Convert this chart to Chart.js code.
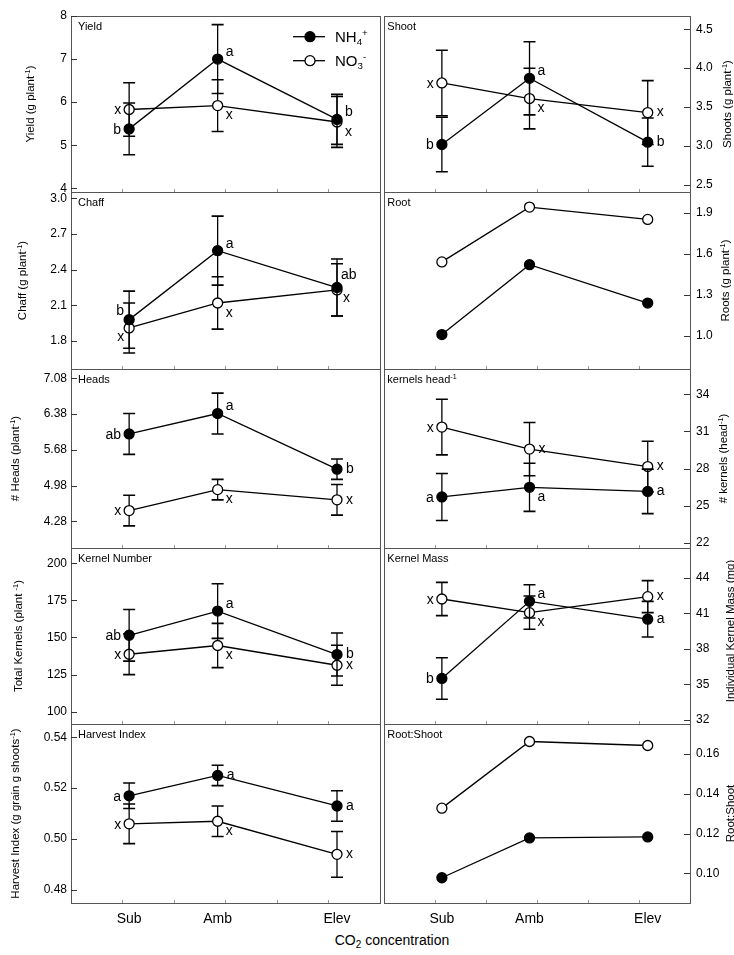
<!DOCTYPE html>
<html>
<head>
<meta charset="utf-8">
<script src="https://cdn.jsdelivr.net/npm/chart.js@4.4.1/dist/chart.umd.min.js"></script>
<style>
 html,body{margin:0;padding:0;background:#fff}
 body{position:relative;width:734px;height:955px;overflow:hidden;font-family:"Liberation Sans",Arial,sans-serif}
 canvas{position:absolute}
 #xtitle{position:absolute;left:392px;top:932px;transform:translateX(-50%);font-size:14px;line-height:16px;color:#000;white-space:nowrap}
 #xtitle sub{font-size:10px;vertical-align:-3px;line-height:0}
</style>
</head>
<body>
<div id="xtitle">CO<sub>2</sub> concentration</div>
<script>
// ---------------- DATA ----------------
const categories = ['Sub', 'Amb', 'Elev'];
const categoryX = [1.13, 2.85, 5.17];
const xTickValues = [1, 2, 3, 4, 5];
const seriesLabels = ['NH_{4}^{+}', 'NO_{3}^{-}'];

// Yield (g plant-1)
const yieldTickLabels = ['4', '5', '6', '7', '8'];
const yieldNH4 = [5.38, 7.00, 5.60];
const yieldNH4Err = [0.60, 0.80, 0.58];
const yieldNO3 = [5.83, 5.92, 5.54];
const yieldNO3Err = [0.62, 0.60, 0.59];
const yieldNH4Sig = ['b', 'a', 'b'];
const yieldNO3Sig = ['x', 'x', 'x'];

// Shoots (g plant-1)
const shootTickLabels = ['2.5', '3.0', '3.5', '4.0', '4.5'];
const shootNH4 = [3.02, 3.87, 3.05];
const shootNH4Err = [0.35, 0.47, 0.31];
const shootNO3 = [3.81, 3.61, 3.43];
const shootNO3Err = [0.42, 0.39, 0.41];
const shootNH4Sig = ['b', 'a', 'b'];
const shootNO3Sig = ['x', 'x', 'x'];

// Chaff (g plant-1)
const chaffTickLabels = ['1.8', '2.1', '2.4', '2.7', '3.0'];
const chaffNH4 = [1.98, 2.56, 2.25];
const chaffNH4Err = [0.24, 0.29, 0.24];
const chaffNO3 = [1.91, 2.12, 2.23];
const chaffNO3Err = [0.21, 0.22, 0.22];
const chaffNH4Sig = ['b', 'a', 'ab'];
const chaffNO3Sig = ['x', 'x', 'x'];

// Roots (g plant-1)
const rootTickLabels = ['1.0', '1.3', '1.6', '1.9'];
const rootNH4 = [1.01, 1.52, 1.24];
const rootNO3 = [1.54, 1.94, 1.85];

// # Heads (plant-1)
const headsTickLabels = ['4.28', '4.98', '5.68', '6.38', '7.08'];
const headsNH4 = [5.99, 6.39, 5.30];
const headsNH4Err = [0.40, 0.40, 0.20];
const headsNO3 = [4.49, 4.90, 4.70];
const headsNO3Err = [0.30, 0.20, 0.30];
const headsNH4Sig = ['ab', 'a', 'b'];
const headsNO3Sig = ['x', 'x', 'x'];

// # kernels (head-1)
const kphTickLabels = ['22', '25', '28', '31', '34'];
const kphNH4 = [25.70, 26.48, 26.15];
const kphNH4Err = [1.90, 1.95, 1.80];
const kphNO3 = [31.35, 29.57, 28.16];
const kphNO3Err = [2.25, 2.15, 2.05];
const kphNH4Sig = ['a', 'a', 'a'];
const kphNO3Sig = ['x', 'x', 'x'];

// Total Kernels (plant-1)
const knTickLabels = ['100', '125', '150', '175', '200'];
const knNH4 = [151.5, 167.8, 138.5];
const knNH4Err = [17.4, 18.4, 14.5];
const knNO3 = [138.7, 144.6, 131.3];
const knNO3Err = [13.7, 14.9, 13.5];
const knNH4Sig = ['ab', 'a', 'b'];
const knNO3Sig = ['x', 'x', 'x'];

// Individual Kernel Mass (mg)
const kmTickLabels = ['32', '35', '38', '41', '44'];
const kmNH4 = [35.50, 42.00, 40.50];
const kmNH4Err = [1.75, 1.40, 1.50];
const kmNO3 = [42.20, 41.05, 42.40];
const kmNO3Err = [1.40, 1.40, 1.35];
const kmNH4Sig = ['b', 'a', 'a'];
const kmNO3Sig = ['x', 'x', 'x'];

// Harvest Index
const hiTickLabels = ['0.48', '0.50', '0.52', '0.54'];
const hiNH4 = [0.517, 0.525, 0.513];
const hiNH4Err = [0.005, 0.004, 0.006];
const hiNO3 = [0.506, 0.507, 0.494];
const hiNO3Err = [0.0078, 0.006, 0.009];
const hiNH4Sig = ['a', 'a', 'a'];
const hiNO3Sig = ['x', 'x', 'x'];

// Root:Shoot
const rsTickLabels = ['0.10', '0.12', '0.14', '0.16'];
const rsNH4 = [0.0978, 0.1178, 0.1183];
const rsNO3 = [0.1328, 0.1663, 0.1643];

// ---------------- LAYOUT / STYLE ----------------
const FONT = '"Liberation Sans", Arial, sans-serif';
Chart.defaults.font.family = FONT;
Chart.defaults.color = '#000';

const rows = [[16, 192], [192, 369], [369, 548], [548, 724], [724, 903]];
const M = 14;
const PAGE_H = 955;
const AXIS_TITLE_SIZE = 11.5;

const panels = [
  {side:'L', row:0, min:3.915, max:8.0, ticks:yieldTickLabels, name:'Yield', axisTitle:'Yield (g plant^{-1})', tOff:41, tDy:0,
   s:[yieldNH4, yieldNO3], e:[yieldNH4Err, yieldNO3Err], sig:[yieldNH4Sig, yieldNO3Sig],
   pos:[['L','RU','RU'], ['L','RD','RD']], legend:true},
  {side:'R', row:0, min:2.41, max:4.67, ticks:shootTickLabels, name:'Shoot', axisTitle:'Shoots (g plant^{-1})', tOff:37, tDy:0,
   s:[shootNH4, shootNO3], e:[shootNH4Err, shootNO3Err], sig:[shootNH4Sig, shootNO3Sig],
   pos:[['L','RU','R'], ['L','RD','R']]},
  {side:'L', row:1, min:1.565, max:3.053, ticks:chaffTickLabels, name:'Chaff', axisTitle:'Chaff (g plant^{-1})', tOff:49, tDy:0,
   s:[chaffNH4, chaffNO3], e:[chaffNH4Err, chaffNO3Err], sig:[chaffNH4Sig, chaffNO3Sig],
   pos:[['LU','RU','UR'], ['LD','RD','DR']]},
  {side:'R', row:1, min:0.759, max:2.05, ticks:rootTickLabels, name:'Root', axisTitle:'Roots (g plant^{-1})', tOff:35, tDy:0,
   s:[rootNH4, rootNO3]},
  {side:'L', row:2, min:3.757, max:7.262, ticks:headsTickLabels, name:'Heads', axisTitle:'# Heads (plant^{-1})', tOff:56, tDy:0,
   s:[headsNH4, headsNO3], e:[headsNH4Err, headsNO3Err], sig:[headsNH4Sig, headsNO3Sig],
   pos:[['L','RU','R'], ['L','RD','R']]},
  {side:'R', row:2, min:21.57, max:36.05, ticks:kphTickLabels, name:'kernels head^{-1}', axisTitle:'# kernels (head^{-1})', tOff:33, tDy:0,
   s:[kphNH4, kphNO3], e:[kphNH4Err, kphNO3Err], sig:[kphNH4Sig, kphNO3Sig],
   pos:[['L','RD','R'], ['L','R','R']]},
  {side:'L', row:3, min:91.7, max:210.3, ticks:knTickLabels, name:'Kernel Number', axisTitle:'Total Kernels (plant ^{-1})', tOff:53, tDy:0,
   s:[knNH4, knNO3], e:[knNH4Err, knNO3Err], sig:[knNH4Sig, knNO3Sig],
   pos:[['L','RU','R'], ['L','RD','R']]},
  {side:'R', row:3, min:31.66, max:46.5, ticks:kmTickLabels, name:'Kernel Mass', axisTitle:'Individual Kernel Mass (mg)', tOff:40, tDy:-5,
   s:[kmNH4, kmNO3], e:[kmNH4Err, kmNO3Err], sig:[kmNH4Sig, kmNO3Sig],
   pos:[['L','RU','R'], ['L','RD','R']]},
  {side:'L', row:4, min:0.4749, max:0.5452, ticks:hiTickLabels, name:'Harvest Index', axisTitle:'Harvest Index (g grain g shoots^{-1})', tOff:56, tDy:0,
   s:[hiNH4, hiNO3], e:[hiNH4Err, hiNO3Err], sig:[hiNH4Sig, hiNO3Sig],
   pos:[['L','R','R'], ['L','RD','R']]},
  {side:'R', row:4, min:0.0851, max:0.1751, ticks:rsTickLabels, name:'Root:Shoot', axisTitle:'Root:Shoot', tOff:40, tDy:0,
   s:[rsNH4, rsNO3]}
];

const letterOffsets = {
  L:[-8, 1, 'right'], R:[9, 0, 'left'], RU:[8, -7, 'left'], RD:[8, 10, 'left'],
  LU:[-5, -8, 'right'], LD:[-5, 9, 'right'], UR:[4, -12, 'left'], DR:[6, 8, 'left']
};

// ---------------- HELPERS ----------------
function parseRich(s) {
  const out = []; const re = /(\^|_)\{([^}]*)\}/g; let last = 0, m;
  while ((m = re.exec(s))) {
    if (m.index > last) out.push({t:s.slice(last, m.index), k:0});
    out.push({t:m[2], k:m[1] === '^' ? 1 : -1});
    last = re.lastIndex;
  }
  if (last < s.length) out.push({t:s.slice(last), k:0});
  return out;
}
function drawRich(ctx, s, x, y, size, align) {
  const parts = parseRich(s);
  const small = size * 0.65;
  let w = 0;
  parts.forEach(p => { ctx.font = (p.k ? small : size) + 'px ' + FONT; p.w = ctx.measureText(p.t).width; w += p.w; });
  let cx = align === 'center' ? x - w / 2 : (align === 'right' ? x - w : x);
  const base = y + size * 0.36;
  ctx.textAlign = 'left'; ctx.textBaseline = 'alphabetic'; ctx.fillStyle = '#000';
  parts.forEach(p => {
    ctx.font = (p.k ? small : size) + 'px ' + FONT;
    const dy = p.k === 1 ? -size * 0.40 : (p.k === -1 ? size * 0.22 : 0);
    ctx.fillText(p.t, cx, base + dy);
    cx += p.w;
  });
}

function makePlugin(p) {
  return {
    id: 'panelDecor',
    beforeDatasetDraw(chart, args) {
      if (!p.e) return;
      const ctx = chart.ctx, xs = chart.scales.x, ys = chart.scales.y;
      const vals = p.s[args.index], errs = p.e[args.index];
      ctx.save();
      ctx.strokeStyle = '#000';
      vals.forEach((v, i) => {
        const x = xs.getPixelForValue(categoryX[i]);
        const yt = ys.getPixelForValue(v + errs[i]);
        const yb = ys.getPixelForValue(v - errs[i]);
        ctx.lineWidth = 1.3;
        ctx.beginPath(); ctx.moveTo(x, yt); ctx.lineTo(x, yb); ctx.stroke();
        ctx.lineWidth = 1.6;
        ctx.beginPath();
        ctx.moveTo(x - 6, yt); ctx.lineTo(x + 6, yt);
        ctx.moveTo(x - 6, yb); ctx.lineTo(x + 6, yb);
        ctx.stroke();
      });
      ctx.restore();
    },
    afterDraw(chart) {
      const ctx = chart.ctx, a = chart.chartArea, xs = chart.scales.x, ys = chart.scales.y;
      ctx.save();
      // frame
      ctx.strokeStyle = '#555'; ctx.lineWidth = 1;
      ctx.strokeRect(Math.round(a.left) + 0.5, Math.round(a.top) + 0.5, Math.round(a.right - a.left), Math.round(a.bottom - a.top));
      // inward y ticks
      ctx.strokeStyle = '#333'; ctx.beginPath();
      p.ticks.forEach(l => {
        const y = Math.round(ys.getPixelForValue(parseFloat(l))) + 0.5;
        if (p.side === 'L') { ctx.moveTo(a.left, y); ctx.lineTo(a.left + 6, y); }
        else { ctx.moveTo(a.right, y); ctx.lineTo(a.right - 6, y); }
      });
      ctx.stroke();
      // inward x ticks
      ctx.strokeStyle = '#999'; ctx.beginPath();
      xTickValues.forEach(v => {
        const x = Math.round(xs.getPixelForValue(v)) + 0.5;
        ctx.moveTo(x, a.bottom); ctx.lineTo(x, a.bottom - 3);
      });
      ctx.stroke();
      // panel name
      drawRich(ctx, p.name, a.left + (p.side === 'L' ? 7 : 3), a.top + 10, 11, 'left');
      // axis title (reads bottom to top)
      const cx = p.side === 'L' ? a.left - p.tOff : a.right + p.tOff;
      ctx.save(); ctx.translate(cx, (a.top + a.bottom) / 2 + p.tDy); ctx.rotate(-Math.PI / 2);
      drawRich(ctx, p.axisTitle, 0, 0, AXIS_TITLE_SIZE, 'center');
      ctx.restore();
      // significance letters
      if (p.sig) {
        p.sig.forEach((letters, si) => {
          letters.forEach((t, i) => {
            const o = letterOffsets[p.pos[si][i]];
            const x = xs.getPixelForValue(categoryX[i]) + o[0];
            const y = ys.getPixelForValue(p.s[si][i]) + o[1];
            ctx.font = '14px ' + FONT; ctx.fillStyle = '#000';
            ctx.textAlign = o[2]; ctx.textBaseline = 'middle';
            ctx.fillText(t, x, y);
          });
        });
      }
      // legend
      if (p.legend) {
        chart.data.datasets.forEach((ds, i) => {
          const y = a.top + 20.7 + i * 24;
          const x0 = a.left + 222, x1 = a.left + 254, xm = a.left + 239;
          ctx.strokeStyle = '#000'; ctx.lineWidth = 1.3;
          ctx.beginPath(); ctx.moveTo(x0, y); ctx.lineTo(x1, y); ctx.stroke();
          ctx.beginPath(); ctx.arc(xm, y, 5, 0, Math.PI * 2);
          ctx.fillStyle = ds.pointBackgroundColor; ctx.fill(); ctx.stroke();
          drawRich(ctx, seriesLabels[i], a.left + 264, y, 15, 'left');
        });
      }
      ctx.restore();
    }
  };
}

// ---------------- BUILD CHARTS ----------------
panels.forEach(p => {
  const [rTop, rBot] = rows[p.row];
  const bottomRow = p.row === rows.length - 1;
  const top = rTop - M;
  const height = bottomRow ? PAGE_H - top : (rBot - rTop) + 2 * M;
  const left = p.side === 'L' ? 0 : 378;
  const width = p.side === 'L' ? 386 : 362;
  const cv = document.createElement('canvas');
  cv.width = width; cv.height = height;
  cv.style.left = left + 'px'; cv.style.top = top + 'px';
  cv.style.width = width + 'px'; cv.style.height = height + 'px';
  document.body.appendChild(cv);

  const datasets = p.s.map((vals, si) => ({
    label: seriesLabels[si],
    data: vals.map((v, i) => ({x: categoryX[i], y: v})),
    borderColor: '#000', borderWidth: 1.3,
    pointRadius: 5, pointHoverRadius: 5, pointBorderWidth: 1.3,
    pointBorderColor: '#000',
    pointBackgroundColor: si === 0 ? '#000' : '#fff',
    backgroundColor: si === 0 ? '#000' : '#fff',
    tension: 0, fill: false, clip: 10
  }));

  new Chart(cv, {
    type: 'line',
    data: { datasets },
    plugins: [makePlugin(p)],
    options: {
      responsive: false, animation: false, devicePixelRatio: 1,
      events: [],
      layout: { padding: {
        left: p.side === 'L' ? 0 : 4, right: p.side === 'L' ? 4 : 0,
        top: M, bottom: bottomRow ? 0 : M } },
      plugins: { legend: {display: false}, tooltip: {enabled: false}, title: {display: false} },
      scales: {
        x: {
          type: 'linear', min: 0, max: 6,
          display: bottomRow,
          grid: {display: false, drawTicks: false, drawOnChartArea: false},
          border: {display: false},
          afterBuildTicks: s => { s.ticks = categoryX.map(v => ({value: v})); },
          afterFit: s => { if (bottomRow) s.height = height - M - (rBot - rTop); },
          ticks: {
            autoSkip: false, maxRotation: 0, minRotation: 0, padding: 8,
            font: {size: 14, family: FONT}, color: '#000',
            callback: (v, i) => categories[i]
          }
        },
        y: {
          type: 'linear', position: p.side === 'L' ? 'left' : 'right',
          min: p.min, max: p.max,
          grid: {display: false, drawTicks: false, drawOnChartArea: false},
          border: {display: false},
          afterBuildTicks: s => { s.ticks = p.ticks.map(l => ({value: parseFloat(l)})); },
          afterFit: s => { s.width = p.side === 'L' ? 71 : 50; },
          ticks: {
            autoSkip: false, padding: p.side === 'L' ? 4 : 6,
            font: {size: 12, family: FONT}, color: '#000',
            callback: (v, i) => p.ticks[i]
          }
        }
      }
    }
  });
});
</script>
</body>
</html>
